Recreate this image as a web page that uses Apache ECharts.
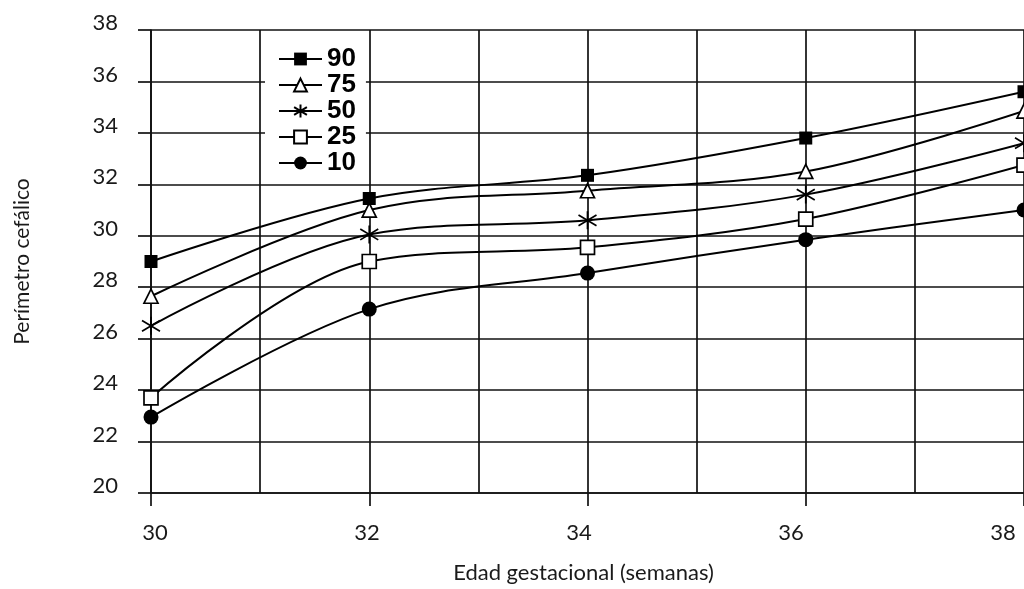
<!DOCTYPE html>
<html>
<head>
<meta charset="utf-8">
<script src="https://cdn.jsdelivr.net/npm/echarts@6/dist/echarts.min.js"></script>
<style>
html,body{margin:0;padding:0;background:#fff;}
#chart{width:1024px;height:589px;}
</style>
</head>
<body>
<div id="chart"></div>
<script>
// Data
const weeks = [30, 32, 34, 36, 38];
const seriesNames = ['90', '75', '50', '25', '10'];
const p90 = [29.0, 31.45, 32.35, 33.8, 35.6];
const p75 = [27.65, 31.0, 31.75, 32.5, 34.85];
const p50 = [26.5, 30.05, 30.6, 31.6, 33.6];
const p25 = [23.7, 29.0, 29.55, 30.65, 32.75];
const p10 = [22.95, 27.15, 28.55, 29.85, 31.0];
const xTitle = 'Edad gestacional (semanas)';
const yTitle = 'Perímetro cefálico';

const INK = '#000';
const TEXT = '#1a1a1a';
const FONT = 'Lato';
const STAR = 'path://M10 0 L10 20 M1 4 L19 16 M1 16 L19 4';

const styles = [
  {symbol: 'rect', size: 13, item: {color: INK}},
  {symbol: 'triangle', size: 14, item: {color: '#fff', borderColor: INK, borderWidth: 1.7}},
  {symbol: STAR, size: 18, item: {color: 'none', borderColor: INK, borderWidth: 1.7}},
  {symbol: 'rect', size: 14, item: {color: '#fff', borderColor: INK, borderWidth: 1.7}},
  {symbol: 'circle', size: 15, item: {color: INK}}
];
const values = [p90, p75, p50, p25, p10];

const chart = echarts.init(document.getElementById('chart'), null, {renderer: 'canvas'});
const gridLine = {color: '#111', width: 1.7};

const option = {
  backgroundColor: '#fff',
  animation: false,
  grid: [
    {left: 151, top: 30, width: 876, height: 468},
    {left: 155, top: 30, width: 848, height: 468}
  ],
  legend: {
    data: seriesNames,
    orient: 'vertical',
    left: 265,
    top: 40,
    padding: [6, 10, 5, 13],
    backgroundColor: '#fff',
    itemWidth: 43,
    itemHeight: 16,
    itemGap: 0,
    textStyle: {fontFamily: 'Liberation Sans', fontWeight: 'bold', fontSize: 26, lineHeight: 26, color: INK}
  },
  xAxis: [
    {
      type: 'value', gridIndex: 0, min: 30, max: 38, interval: 2,
      axisLine: {show: true, lineStyle: gridLine},
      axisTick: {show: true, length: 13, lineStyle: gridLine},
      axisLabel: {show: false},
      splitLine: {show: true, lineStyle: gridLine},
      minorTick: {show: false, splitNumber: 2},
      minorSplitLine: {show: true, lineStyle: gridLine},
      name: xTitle, nameLocation: 'middle', nameGap: 69,
      nameTextStyle: {fontFamily: FONT, fontSize: 22, color: TEXT, padding: [0, 8, 0, 0]}
    },
    {
      type: 'value', gridIndex: 1, min: 30, max: 38, interval: 2,
      axisLine: {show: false}, axisTick: {show: false}, splitLine: {show: false},
      axisLabel: {show: true, margin: 24, fontFamily: FONT, fontSize: 22, color: TEXT}
    }
  ],
  yAxis: [
    {
      type: 'value', gridIndex: 0, min: 20, max: 38, interval: 2,
      axisLine: {show: true, lineStyle: gridLine},
      axisTick: {show: true, length: 13, lineStyle: gridLine},
      splitLine: {show: true, lineStyle: gridLine},
      axisLabel: {margin: 33, fontFamily: FONT, fontSize: 22, color: TEXT, verticalAlign: 'bottom', lineHeight: 14},
      name: yTitle, nameLocation: 'middle', nameGap: 118,
      nameTextStyle: {fontFamily: FONT, fontSize: 21, color: TEXT}
    },
    {type: 'value', gridIndex: 1, min: 20, max: 38, show: false}
  ],
  series: seriesNames.map((name, k) => ({
    name: name,
    type: 'line',
    xAxisIndex: 0, yAxisIndex: 0,
    data: weeks.map((w, i) => [w, values[k][i]]),
    smooth: 0.35,
    symbol: styles[k].symbol,
    symbolSize: styles[k].size,
    showAllSymbol: true,
    itemStyle: styles[k].item,
    lineStyle: {color: INK, width: 2},
    clip: false,
    z: 3
  }))
};
chart.setOption(option);
</script>
</body>
</html>
